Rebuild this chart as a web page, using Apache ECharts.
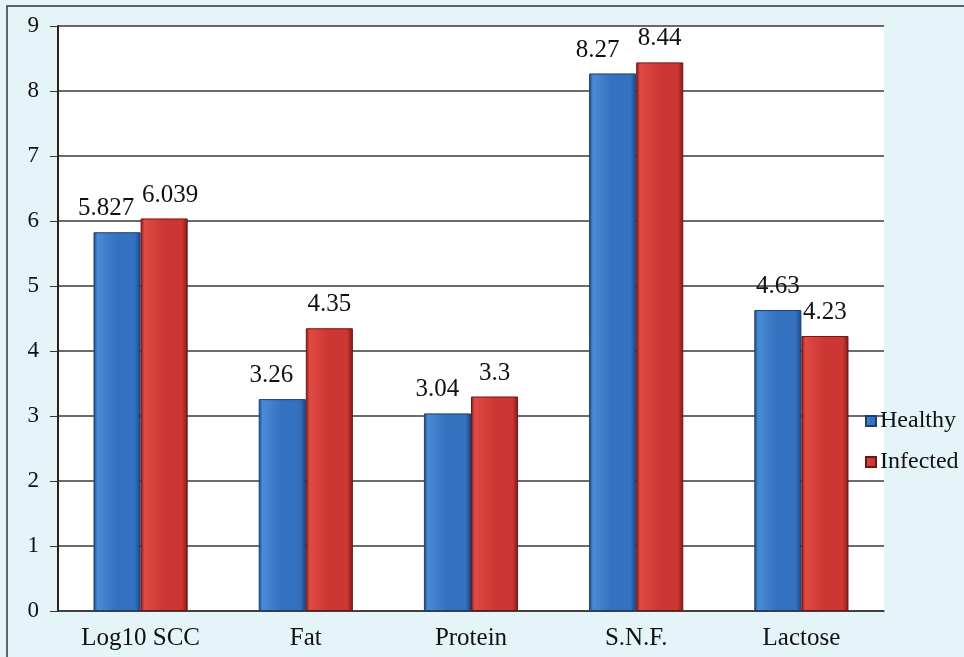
<!DOCTYPE html>
<html>
<head>
<meta charset="utf-8">
<script src="https://cdn.jsdelivr.net/npm/echarts@6/dist/echarts.min.js"></script>
<style>
  html, body { margin: 0; padding: 0; background: #e4f4f9; }
  #chart { width: 964px; height: 657px; }
</style>
</head>
<body>
<div id="chart"></div>
<script>
// Milk composition: healthy vs infected quarters
const categories = ['Log10 SCC', 'Fat', 'Protein', 'S.N.F.', 'Lactose'];
const healthy = [5.827, 3.26, 3.04, 8.27, 4.63];
const infected = [6.039, 4.35, 3.3, 8.44, 4.23];
const seriesNames = ['Healthy', 'Infected'];

// horizontal nudges for value labels so neighbouring labels don't collide
const healthyLabelDx = [-11, -11, -10, -15, 0];
const infectedLabelDx = [6, 0, 0, 0, 0];

const serif = '"Liberation Serif", "DejaVu Serif", serif';

function bevel(edge, body, light) {
  return {
    type: 'linear', x: 0, y: 0, x2: 1, y2: 0,
    colorStops: [
      { offset: 0, color: edge },
      { offset: 0.08, color: light },
      { offset: 0.5, color: body },
      { offset: 0.88, color: body },
      { offset: 1, color: edge }
    ]
  };
}

function withShift(values, dx) {
  return values.map((v, i) => ({ value: v, label: { offset: [dx[i], 0] } }));
}

const labelStyle = {
  show: true, position: 'top', distance: 11,
  fontFamily: serif, fontSize: 25, color: '#111'
};

const chart = echarts.init(document.getElementById('chart'));
chart.setOption({
  backgroundColor: '#e4f4f9',
  animation: false,
  graphic: [
    { type: 'rect', shape: { x: 7, y: 6, width: 980, height: 700 },
      style: { fill: 'none', stroke: '#333', lineWidth: 1.5 }, silent: true, z: -1 }
  ],
  grid: {
    left: 58, right: 80, top: 26, bottom: 46,
    show: true, backgroundColor: '#ffffff', borderWidth: 0
  },
  legend: {
    orient: 'vertical',
    left: 860, top: 404,
    itemWidth: 10, itemHeight: 10, itemGap: 17,
    icon: 'rect',
    textStyle: { fontFamily: serif, fontSize: 24, color: '#111', padding: [0, 0, 0, -1] },
    data: seriesNames
  },
  xAxis: {
    type: 'category',
    data: categories,
    axisLine: { lineStyle: { color: '#333', width: 1.5 } },
    axisTick: { show: false },
    axisLabel: { fontFamily: serif, fontSize: 25, color: '#111', margin: 15 }
  },
  yAxis: {
    type: 'value', min: 0, max: 9, interval: 1,
    axisLine: { show: true, lineStyle: { color: '#222', width: 2 } },
    axisTick: { show: true, length: 8, lineStyle: { color: '#333' } },
    axisLabel: { fontFamily: serif, fontSize: 23, color: '#111', margin: 19 },
    splitLine: { lineStyle: { color: '#3a3a3a', width: 1.5 } }
  },
  series: [
    {
      name: seriesNames[0], type: 'bar', data: withShift(healthy, healthyLabelDx),
      barWidth: '28.5%', barGap: '0%',
      itemStyle: { color: bevel('#1a4783', '#3471bf', '#4a8ad6'), borderColor: '#1a3f75', borderWidth: 1 },
      label: labelStyle
    },
    {
      name: seriesNames[1], type: 'bar', data: withShift(infected, infectedLabelDx),
      barWidth: '28.5%', barGap: '0%',
      itemStyle: { color: bevel('#7e1a18', '#cc3733', '#e04a44'), borderColor: '#6f1512', borderWidth: 1 },
      label: labelStyle
    }
  ]
});
</script>
</body>
</html>
